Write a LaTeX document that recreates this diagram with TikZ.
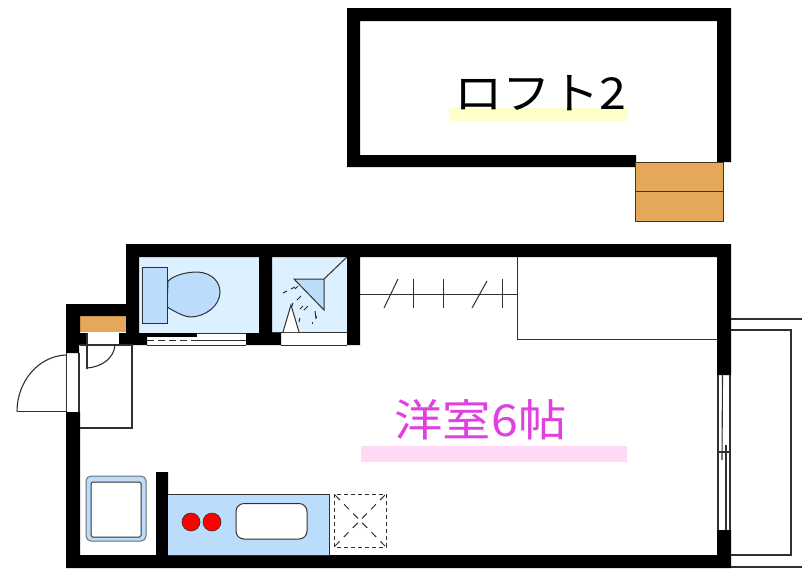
\documentclass[tikz,border=0pt]{standalone}
\usepackage{fontspec}
\newfontfamily\jpfont{Noto Sans CJK JP}
\definecolor{roomblue}{HTML}{DDF0FF}
\definecolor{fixblue}{HTML}{BBDDFB}
\definecolor{woodc}{HTML}{E5A85A}
\definecolor{yellowbar}{HTML}{FFFFCC}
\definecolor{pinkbar}{HTML}{FFD9F5}
\definecolor{magentatxt}{HTML}{E040E0}
\definecolor{linec}{HTML}{303030}
\tikzset{
  wall/.style={fill=black,draw=none},
  thin line/.style={draw=linec,line width=1.1pt},
  fine line/.style={draw=linec,line width=1pt},
  fixture/.style={fill=fixblue,draw=linec,line width=1pt},
  wood/.style={fill=woodc,draw=black!70!woodc,line width=1pt},
  room label/.style={font=\jpfont\fontsize{44}{44}\selectfont,inner sep=0pt,anchor=center,xscale=1.1}
}
\begin{document}
\begin{tikzpicture}[x=1pt,y=-1pt]
\useasboundingbox (0,0) rectangle (802,568);
\fill[white] (0,0) rectangle (802,568);
% loft
\fill[yellowbar] (449,108) rectangle (628,121);
\fill[wall] (347,8) -- (731,8) -- (731,162) -- (717,162) -- (717,21) -- (360,21) -- (360,155) -- (636,155) -- (636,167) -- (347,167) -- cycle;
\draw[wood] (635.5,162) rectangle (723,221);
\draw[wood] (635.5,191.5) -- (723,191.5);
\node[room label] (loft) at (540.5,93) {ロフト2};
% room fills
\fill[roomblue] (139,257) rectangle (260,333);
\fill[roomblue] (272,257) rectangle (347,332);
\fill[woodc] (80,316) rectangle (126,332);
\fill[pinkbar] (361,446) rectangle (627,462);
% balcony
\draw[thin line] (731,319) -- (802,319);
\draw[thin line] (731,330) -- (791,330) -- (791,555) -- (731,555);
\draw[thin line] (731,567) -- (802,567);
% closet
\draw[fine line] (360,294) -- (517,294);
\draw[fine line] (517,257) -- (517,339.5) -- (717,339.5);
\draw[fine line] (384,308) -- (398,279);
\draw[fine line] (413,279) -- (413,308);
\draw[fine line] (443,279) -- (443,308);
\draw[fine line] (472,308) -- (487,281);
\draw[fine line] (502,279) -- (502,308);
% walls of the main room
\fill[wall] (126,244) -- (731,244) -- (731,375) -- (717,375) -- (717,257) -- (360,257) -- (360,345) -- (347,345) -- (347,257) -- (272,257) -- (272,333) -- (281,333) -- (281,345) -- (246,345) -- (246,333) -- (259,333) -- (259,257) -- (139,257) -- (139,333) -- (147,333) -- (147,345) -- (119,345) -- (119,333) -- (126,333) -- (126,316) -- (80,316) -- (80,333) -- (86,333) -- (86,345) -- (79,345) -- (79,353) -- (66,353) -- (66,304) -- (126,304) -- cycle;
\fill[wall] (66,412) -- (80,412) -- (80,555) -- (156,555) -- (156,472) -- (168,472) -- (168,555) -- (717,555) -- (717,530) -- (731,530) -- (731,568) -- (66,568) -- cycle;
% window
\draw[thin line] (718,375) -- (718,530);
\draw[thin line] (730,375) -- (730,530);
\draw[thin line] (722.5,375) -- (722,460);
\draw[thin line] (726,445) -- (726,530);
\draw[thin line] (718,452) -- (730,452);
% bath shelf strips
\fill[wall] (147,333) rectangle (197,337);
\draw[fine line,dash pattern=on 7pt off 4pt] (147,340.5) -- (197,340.5);
\draw[fine line] (197,333.5) -- (246,333.5);
\draw[fine line] (197,340.5) -- (246,340.5);
\draw[fine line] (147,345) -- (246,345);
\draw[fine line] (281,345) -- (347,345);
\draw[fine line] (272,332.5) -- (347,332.5);
% entry
\draw[thin line] (80,345) -- (132,345) -- (132,428) -- (80,428);
\draw[thin line] (87,333) -- (87,368);
\draw[thin line] (87,368) .. controls (102,367) and (114,358) .. (115,345);
\fill[linec] (87,368) circle (1.4pt);
\draw[thin line] (66,411.5) -- (17,411.5);
\draw[thin line] (17,411.5) .. controls (17,382) and (38,356) .. (66,355);
\draw[thin line] (66.5,353) -- (66.5,412);
\draw[thin line] (79,353) -- (79,412);
% toilet
\draw[fixture] (168,281) .. controls (176,274) and (188,272) .. (198,272) .. controls (212,273) and (220,282) .. (220,292) .. controls (220,306) and (205,317) .. (190,317) .. controls (182,316) and (174,311) .. (167,307) -- cycle;
\draw[fixture] (142.5,267) rectangle (167,323);
% shower
\draw[fixture] (294,279) -- (324,279) -- (324,310) -- cycle;
\draw[fine line] (324,279) -- (347,257);
\draw[fine line,fill=white] (283,332) -- (291,305) -- (299,332);
\foreach \a/\b/\c/\d in {283/293/287/291, 291/289/295/287, 297/300/301/296, 298/286/295/289, 304/310/308/306, 316/319/315/311, 300/318/299/322, 312/322/312/324, 292/306/293/303, 303/306/300/309, 316/316/316/318} {
  \draw[fine line] (\a,\b) -- (\c,\d);
}
% kitchen counter
\draw[fixture] (168,494) -- (329,494) -- (329,555) -- (168,555);
\fill[red,draw=linec,line width=.6pt] (191,522) circle (9pt);
\fill[red,draw=linec,line width=.6pt] (212,522) circle (9pt);
\draw[fine line,fill=white,rounded corners=8pt] (236,503.5) rectangle (307,539);
% sink
\draw[fixture,rounded corners=5pt,draw=linec!70] (86,476) rectangle (146,541);
\draw[fine line,fill=white,rounded corners=1.5pt] (91,482) rectangle (141,537);
% fridge space
\draw[fine line,dash pattern=on 4pt off 3pt] (334,494) rectangle (386,547);
\draw[fine line,dash pattern=on 7pt off 6pt] (335,495) -- (385,546);
\draw[fine line,dash pattern=on 7pt off 6pt] (385,495) -- (335,546);
% label
\node[room label,text=magentatxt] (room) at (480.5,420) {洋室6帖};
\end{tikzpicture}
\end{document}
